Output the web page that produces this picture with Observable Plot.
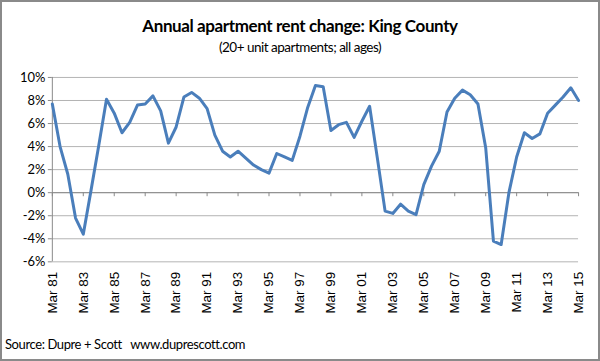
<!DOCTYPE html>
<html>
<head>
<meta charset="utf-8">
<script src="https://cdn.jsdelivr.net/npm/d3@7"></script>
<script src="https://cdn.jsdelivr.net/npm/@observablehq/plot@0.6"></script>
<style>
  html, body { margin: 0; padding: 0; background: #fff; }
  #frame { position: relative; width: 600px; height: 361px; box-sizing: border-box; border: 2px solid #8a8a8a; background: #fff; overflow: hidden; font-family: Lato, "Open Sans", sans-serif; color: #000; }
  #title { position: absolute; top: 13px; left: 0; width: 100%; text-align: center; font-weight: bold; font-size: 17px; letter-spacing: -0.4px; }
  #subtitle { position: absolute; top: 37px; left: 0; width: 100%; text-align: center; font-size: 13.5px; letter-spacing: -0.5px; }
  #chart { position: absolute; top: 58px; left: -2px; }
  #footer { position: absolute; left: 3px; top: 334px; font-size: 13px; letter-spacing: -0.4px; }
</style>
</head>
<body>
<div id="frame">
  <div id="title">Annual apartment rent change: King County</div>
  <div id="subtitle">(20+ unit apartments; all ages)</div>
  <div id="chart"></div>
  <div id="footer">Source: Dupre + Scott&nbsp;&nbsp;&nbsp;www.duprescott.com</div>
</div>
<script>
// Semi-annual observations (Mar / Sep), starting Mar 1981
const startYear = 1981;
const rentChange = [
  7.7, 4.0, 1.6, -2.2, -3.6, 0.2, 4.1, 8.1, 6.9, 5.2,
  6.1, 7.6, 7.7, 8.4, 7.1, 4.3, 5.7, 8.3, 8.7, 8.2,
  7.3, 5.0, 3.6, 3.1, 3.6, 3.0, 2.4, 2.0, 1.7, 3.4,
  3.1, 2.8, 4.9, 7.4, 9.3, 9.2, 5.4, 5.9, 6.1, 4.8,
  6.2, 7.5, 3.0, -1.6, -1.8, -1.0, -1.6, -1.9, 0.7, 2.3,
  3.6, 7.0, 8.2, 8.9, 8.5, 7.7, 3.9, -4.2, -4.5, 0.0,
  3.1, 5.2, 4.7, 5.1, 6.9, 7.6, 8.3, 9.1, 8.0
];
const tickYears = [1981, 1983, 1985, 1987, 1989, 1991, 1993, 1995, 1997, 1999, 2001, 2003, 2005, 2007, 2009, 2011, 2013, 2015];
const tickLabels = ["Mar 81", "Mar 83", "Mar 85", "Mar 87", "Mar 89", "Mar 91", "Mar 93", "Mar 95", "Mar 97", "Mar 99", "Mar 01", "Mar 03", "Mar 05", "Mar 07", "Mar 09", "Mar 11", "Mar 13", "Mar 15"];
const yTicks = [-6, -4, -2, 0, 2, 4, 6, 8, 10];

const data = rentChange.map((v, i) => ({t: startYear + i * 0.5, v}));
const labelOf = new Map(tickYears.map((y, i) => [y, tickLabels[i]]));

const chart = Plot.plot({
  width: 600,
  height: 265,
  marginTop: 17,
  marginBottom: 63,
  marginLeft: 52,
  marginRight: 20,
  style: {fontFamily: "Lato, 'Open Sans', sans-serif", color: "#000", background: "transparent"},
  x: {domain: [1981, 2015], label: null},
  y: {domain: [-6, 10], label: null},
  marks: [
    Plot.gridY(yTicks, {stroke: "#b4b4b4", strokeOpacity: 1}),
    Plot.ruleX([1981], {stroke: "#8a8a8a"}),
    Plot.ruleY([0], {stroke: "#8a8a8a"}),
    Plot.ruleX(tickYears, {y1: 0, y2: -0.35, stroke: "#8a8a8a"}),
    Plot.axisY(yTicks, {label: null, tickFormat: d => d + "%", tickSize: 4, tickPadding: 3, fontSize: 13, stroke: "#8a8a8a", fill: "#000"}),
    Plot.axisX(tickYears, {label: null, tickFormat: d => labelOf.get(d), tickRotate: -90, tickSize: 0, tickPadding: 10, fontSize: 13.5, fontFamily: "'Liberation Sans', Arial, sans-serif", fill: "#000"}),
    Plot.line(data, {x: "t", y: "v", stroke: "#4a7ebb", strokeWidth: 3, strokeLinejoin: "round"})
  ]
});
document.getElementById("chart").appendChild(chart);
</script>
</body>
</html>
